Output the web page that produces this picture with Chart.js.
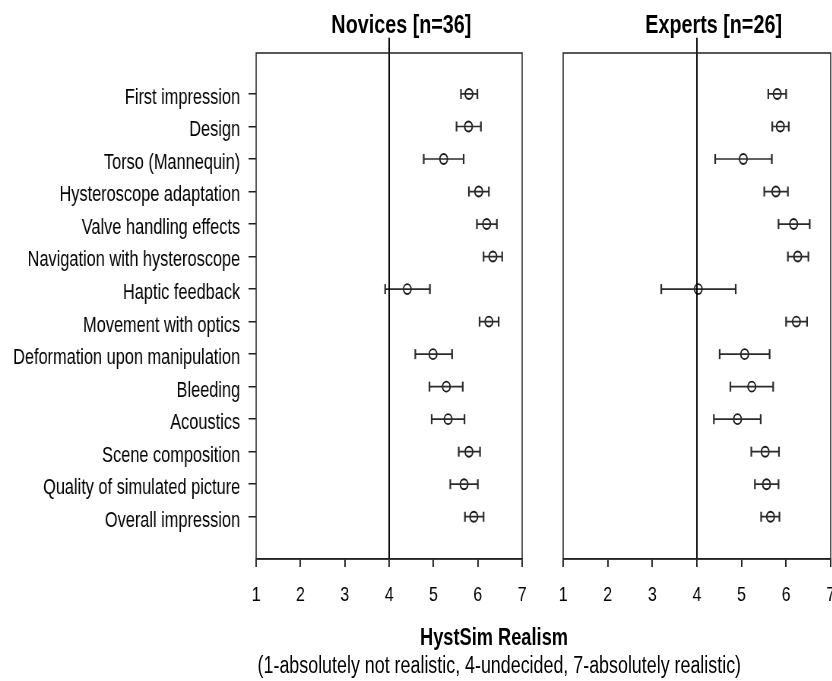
<!DOCTYPE html>
<html>
<head>
<meta charset="utf-8">
<script src="https://cdn.jsdelivr.net/npm/chart.js@4/dist/chart.umd.min.js"></script>
<style>
    html, body { margin: 0; padding: 0; background: #fff; overflow: hidden; }
    body { width: 832px; height: 681px; position: relative; }
    /* the original figure is horizontally squeezed, so the whole drawing is narrowed the same way */
    #page { position: absolute; left: 0; top: 0; width: 1095px; height: 681px; transform: scaleX(0.76); transform-origin: 0 0;
            font-family: "Liberation Sans", Arial, sans-serif; color: #000; }
    canvas { position: absolute; top: 0; }
    .txt { position: absolute; white-space: nowrap; line-height: 1; }
    .bold { font-weight: bold; }
    .centre { width: 700px; text-align: center; }
</style>
</head>
<body>
<div id="page">
<canvas id="noviceChart" width="710" height="681" style="left:0"></canvas>
<canvas id="expertChart" width="400" height="681" style="left:710px"></canvas>

<div class="txt bold" style="font-size:26px; left:436px; top:11px;">Novices [n=36]</div>
<div class="txt bold" style="font-size:26px; left:849px; top:11px;">Experts [n=26]</div>
<div class="txt bold centre" style="font-size:24px; left:300px; top:625px;">HystSim Realism</div>
<div class="txt centre" style="font-size:23.5px; left:307px; top:654px;">(1-absolutely not realistic, 4-undecided, 7-absolutely realistic)</div>
</div>

<script>
var categories = ['First impression', 'Design', 'Torso (Mannequin)', 'Hysteroscope adaptation', 'Valve handling effects',
    'Navigation with hysteroscope', 'Haptic feedback', 'Movement with optics', 'Deformation upon manipulation',
    'Bleeding', 'Acoustics', 'Scene composition', 'Quality of simulated picture', 'Overall impression'];

var scaleTicks = [1, 2, 3, 4, 5, 6, 7];
var undecided = 4;

var noviceMean = [5.80, 5.79, 5.23, 6.02, 6.20, 6.34, 4.41, 6.25, 4.99, 5.29, 5.33, 5.80, 5.69, 5.91];
var noviceLow  = [5.62, 5.52, 4.78, 5.80, 5.98, 6.13, 3.91, 6.04, 4.59, 4.91, 4.96, 5.57, 5.38, 5.71];
var noviceHigh = [5.99, 6.07, 5.68, 6.25, 6.43, 6.55, 4.92, 6.47, 5.42, 5.66, 5.70, 6.05, 6.00, 6.13];

var expertMean = [5.80, 5.87, 5.04, 5.77, 6.17, 6.26, 4.03, 6.23, 5.07, 5.23, 4.91, 5.53, 5.56, 5.65];
var expertLow  = [5.60, 5.69, 4.41, 5.51, 5.83, 6.04, 3.20, 6.00, 4.51, 4.75, 4.38, 5.22, 5.30, 5.44];
var expertHigh = [6.00, 6.06, 5.68, 6.04, 6.53, 6.50, 4.87, 6.47, 5.63, 5.71, 5.43, 5.84, 5.83, 5.85];

var fontFamily = '"Liberation Sans", Arial, sans-serif';

// box around the plot area
var frame = {
    id: 'frame',
    afterDraw: function(chart) {
        var a = chart.chartArea;
        var c = chart.ctx;
        c.save();
        c.strokeStyle = '#222';
        c.lineWidth = 1.5;
        c.strokeRect(a.left, a.top, a.right - a.left, a.bottom - a.top);
        c.restore();
    }
};

function makeChart(canvasId, means, lows, highs, showLabels, leftWidth, rightPad) {
    var bars = [];
    var points = [];
    for (var i = 0; i < categories.length; i++) {
        bars.push({x: lows[i], y: i});
        bars.push({x: highs[i], y: i});
        bars.push({x: null, y: null});
        points.push({x: means[i], y: i});
    }

    var ctx = document.getElementById(canvasId).getContext('2d');
    return new Chart(ctx, {
        type: 'scatter',
        data: {
            datasets: [{
                data: [{x: undecided, y: -1.73}, {x: undecided, y: 14.3}],
                showLine: true,
                borderColor: '#000',
                borderWidth: 1.9,
                pointRadius: 0,
                clip: false
            }, {
                data: bars,
                showLine: true,
                spanGaps: false,
                borderColor: '#2b2b2b',
                borderWidth: 1.7,
                pointStyle: 'line',
                rotation: 90,
                pointRadius: 5,
                pointBorderColor: '#2b2b2b',
                pointBorderWidth: 2.2
            }, {
                data: points,
                pointStyle: 'circle',
                pointRadius: 5,
                pointBackgroundColor: 'rgba(255,255,255,0)',
                pointBorderColor: '#1a1a1a',
                pointBorderWidth: 1.9
            }]
        },
        plugins: [frame],
        options: {
            responsive: false,
            animation: false,
            events: [],
            layout: { padding: { top: 53, right: rightPad, bottom: 0, left: 0 } },
            plugins: {
                legend: { display: false },
                tooltip: { enabled: false }
            },
            scales: {
                x: {
                    type: 'linear',
                    min: 1,
                    max: 7,
                    afterBuildTicks: function(scale) {
                        scale.ticks = scaleTicks.map(function(v) { return {value: v}; });
                    },
                    afterFit: function(scale) {
                        scale.height = 681 - 559;
                        scale.paddingLeft = 0;
                        scale.paddingRight = 0;
                    },
                    grid: { display: true, drawOnChartArea: false, drawTicks: true, tickLength: 8, color: '#222', lineWidth: 1.9 },
                    border: { display: true, color: '#222', width: 1.5 },
                    ticks: { color: '#000', padding: 16, maxRotation: 0, font: { family: fontFamily, size: 21 } }
                },
                y: {
                    type: 'linear',
                    reverse: true,
                    min: -1.26,
                    max: 14.3,
                    afterBuildTicks: function(scale) {
                        scale.ticks = categories.map(function(c, i) { return {value: i}; });
                    },
                    afterFit: function(scale) { scale.width = leftWidth; },
                    grid: { display: showLabels, drawOnChartArea: false, drawTicks: true, tickLength: 10, color: '#222', lineWidth: 1.5 },
                    border: { display: false },
                    ticks: {
                        display: showLabels,
                        color: '#000',
                        padding: 11,
                        labelOffset: 4,
                        autoSkip: false,
                        font: { family: fontFamily, size: 21.5 },
                        callback: function(v) { return categories[v]; }
                    }
                }
            }
        }
    });
}

makeChart('noviceChart', noviceMean, noviceLow, noviceHigh, true, 337, 23);
makeChart('expertChart', expertMean, expertLow, expertHigh, false, 31, 17);
</script>
</body>
</html>
